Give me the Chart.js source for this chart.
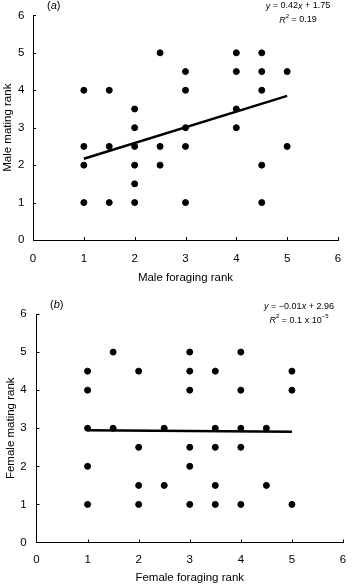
<!DOCTYPE html>
<html>
<head>
<meta charset="utf-8">
<script src="https://cdn.jsdelivr.net/npm/chart.js@4"></script>
<style>
  body { margin: 0; background: #fff; }
  .panel { position: relative; width: 357px; }
</style>
</head>
<body>
<div class="panel" style="height:290px"><canvas id="maleChart"></canvas></div>
<div class="panel" style="height:294px"><canvas id="femaleChart"></canvas></div>
<script>
// panel (a) - males
var maleForaging = [1, 1, 1, 1, 1.5, 1.5, 1.5, 2, 2, 2, 2, 2, 2, 2.5, 2.5, 2.5,
  3, 3, 3, 3, 3, 4, 4, 4, 4, 4.5, 4.5, 4.5, 4.5, 4.5, 5, 5];
var maleMating = [4, 2.5, 2, 1, 4, 2.5, 1, 3.5, 3, 2.5, 2, 1.5, 1, 5, 2.5, 2,
  4.5, 4, 3, 2.5, 1, 5, 4.5, 3.5, 3, 5, 4.5, 4, 2, 1, 4.5, 2.5];
var maleFit = [0.42, 1.75]; // slope, intercept

// panel (b) - females
var femaleForaging = [1, 1, 1, 1, 1, 1.5, 1.5, 2, 2, 2, 2, 2.5, 2.5,
  3, 3, 3, 3, 3, 3, 3.5, 3.5, 3.5, 3.5, 3.5, 4, 4, 4, 4, 4, 4.5, 4.5, 5, 5, 5];
var femaleMating = [4.5, 4, 3, 2, 1, 5, 3, 4.5, 2.5, 1.5, 1, 3, 1.5,
  5, 4.5, 4, 2.5, 2, 1, 4.5, 3, 2.5, 1.5, 1, 5, 4, 3, 2.5, 1, 3, 1.5, 4.5, 4, 1];
var femaleFit = [-0.01, 2.96];

var fitRange = [1, 5];
var axisTicks = [0, 1, 2, 3, 4, 5, 6];

var FONT = "'Liberation Sans', Arial, sans-serif";

function pts(xs, ys) {
  return xs.map(function (x, i) { return {x: x, y: ys[i]}; });
}
function fitLine(fit) {
  return fitRange.map(function (x) { return {x: x, y: fit[0] * x + fit[1]}; });
}

// small inward tick marks + panel annotations
var panelText = {
  id: 'panelText',
  afterDraw: function (chart) {
    var ctx = chart.ctx, o = chart.options.plugins.panelText;
    var xs = chart.scales.x, ys = chart.scales.y;
    ctx.save();
    ctx.strokeStyle = '#000';
    ctx.lineWidth = 1;
    ctx.beginPath();
    axisTicks.forEach(function (v) {
      if (v === 0) return;
      var px = Math.round(xs.getPixelForValue(v)) + 0.5;
      ctx.moveTo(px, ys.bottom); ctx.lineTo(px, ys.bottom - 3);
      var py = Math.round(ys.getPixelForValue(v)) + 0.5;
      ctx.moveTo(xs.left, py); ctx.lineTo(xs.left + 3, py);
    });
    ctx.stroke();

    ctx.fillStyle = '#000';
    ctx.textBaseline = 'middle';
    ctx.font = '11px ' + FONT;
    ctx.textAlign = 'left';
    var lx = o.labelX;
    ctx.fillText('(', lx, o.labelY);
    lx += ctx.measureText('(').width;
    ctx.font = 'italic 11px ' + FONT;
    ctx.fillText(o.label, lx, o.labelY);
    lx += ctx.measureText(o.label).width;
    ctx.font = '11px ' + FONT;
    ctx.fillText(')', lx, o.labelY);

    // equation, centred
    var cx = o.eqX;
    var rest = ' = ' + o.eq;
    ctx.font = 'italic 9px ' + FONT;
    var wy = ctx.measureText('y').width, wx = ctx.measureText('x').width;
    ctx.font = '9px ' + FONT;
    var w1 = wy + ctx.measureText(rest).width + wx + ctx.measureText(o.eqTail).width;
    var x0 = cx - w1 / 2;
    ctx.font = 'italic 9px ' + FONT;
    ctx.fillText('y', x0, o.eqY);
    ctx.font = '9px ' + FONT;
    ctx.fillText(rest, x0 + wy, o.eqY);
    var x1 = x0 + wy + ctx.measureText(rest).width;
    ctx.font = 'italic 9px ' + FONT;
    ctx.fillText('x', x1, o.eqY);
    ctx.font = '9px ' + FONT;
    ctx.fillText(o.eqTail, x1 + wx, o.eqY);

    // R^2 line
    var y2 = o.eqY + 14;
    ctx.font = 'italic 9px ' + FONT;
    var wr = ctx.measureText('R').width;
    ctx.font = '6px ' + FONT;
    var w2sup = ctx.measureText('2').width;
    ctx.font = '9px ' + FONT;
    var r2rest = ' = ' + o.r2;
    var w2 = wr + w2sup + ctx.measureText(r2rest).width;
    if (o.r2exp) { ctx.font = '6px ' + FONT; w2 += ctx.measureText(o.r2exp).width; }
    var r0 = cx - w2 / 2;
    ctx.font = 'italic 9px ' + FONT;
    ctx.fillText('R', r0, y2);
    ctx.font = '6px ' + FONT;
    ctx.fillText('2', r0 + wr, y2 - 4);
    ctx.font = '9px ' + FONT;
    ctx.fillText(r2rest, r0 + wr + w2sup, y2);
    if (o.r2exp) {
      var ex = r0 + wr + w2sup + ctx.measureText(r2rest).width;
      ctx.font = '6px ' + FONT;
      ctx.fillText(o.r2exp, ex, y2 - 4);
    }
    ctx.restore();
  }
};

function makeChart(id, xs, ys, fit, xTitle, yTitle, ann, lay) {
  return new Chart(document.getElementById(id), {
    type: 'scatter',
    data: {
      datasets: [{
        data: pts(xs, ys),
        backgroundColor: '#000',
        borderColor: '#000',
        pointRadius: 3,
        pointHoverRadius: 3
      }, {
        type: 'line',
        data: fitLine(fit),
        borderColor: '#000',
        borderWidth: 2.5,
        pointRadius: 0,
        fill: false
      }]
    },
    options: {
      responsive: true,
      maintainAspectRatio: false,
      animation: false,
      layout: {padding: lay.padding},
      scales: {
        x: {
          type: 'linear', min: 0, max: 6,
          afterBuildTicks: function (s) { s.ticks = axisTicks.map(function (v) { return {value: v}; }); },
          afterFit: function (s) { s.height = lay.xHeight; },
          grid: {display: false, drawTicks: false, tickLength: 0},
          border: {display: true, color: '#000', width: 1},
          ticks: {color: '#000', padding: lay.xTickPad, maxRotation: 0, font: {family: FONT, size: 11.5}},
          title: {display: true, text: xTitle, color: '#000', padding: lay.xTitlePad,
                  font: {family: FONT, size: 11.5}}
        },
        y: {
          type: 'linear', min: 0, max: 6,
          afterBuildTicks: function (s) { s.ticks = axisTicks.map(function (v) { return {value: v}; }); },
          afterFit: function (s) { s.width = lay.yWidth; },
          grid: {display: false, drawTicks: false, tickLength: 0},
          border: {display: true, color: '#000', width: 1},
          ticks: {color: '#000', padding: lay.yTickPad, font: {family: FONT, size: 11.5}},
          title: {display: true, text: yTitle, color: '#000', padding: lay.yTitlePad,
                  font: {family: FONT, size: 11.5}}
        }
      },
      plugins: {
        legend: {display: false},
        tooltip: {enabled: false},
        panelText: ann
      }
    },
    plugins: [panelText]
  });
}

makeChart('maleChart', maleForaging, maleMating, maleFit,
  'Male foraging rank', 'Male mating rank',
  {label: 'a', labelX: 47, labelY: 6, eqX: 298, eqY: 6, eq: '0.42', eqTail: ' + 1.75', r2: '0.19'},
  {padding: {top: 12, right: 19, left: 0, bottom: 0},
   xHeight: 50, xTickPad: 11.5, xTitlePad: {top: 0, bottom: 5},
   yWidth: 33, yTickPad: 8.5, yTitlePad: {top: 1, bottom: 0}});

makeChart('femaleChart', femaleForaging, femaleMating, femaleFit,
  'Female foraging rank', 'Female mating rank',
  {label: 'b', labelX: 50, labelY: 15, eqX: 299, eqY: 16.5, eq: '\u22120.01', eqTail: ' + 2.96', r2: '0.1 x 10', r2exp: '\u22125'},
  {padding: {top: 24, right: 4, left: 0, bottom: 0},
   xHeight: 41.5, xTickPad: 10.8, xTitlePad: {top: 0, bottom: -0.5},
   yWidth: 36.5, yTickPad: 9.8, yTitlePad: {top: 4, bottom: 0}});
</script>
</body>
</html>
